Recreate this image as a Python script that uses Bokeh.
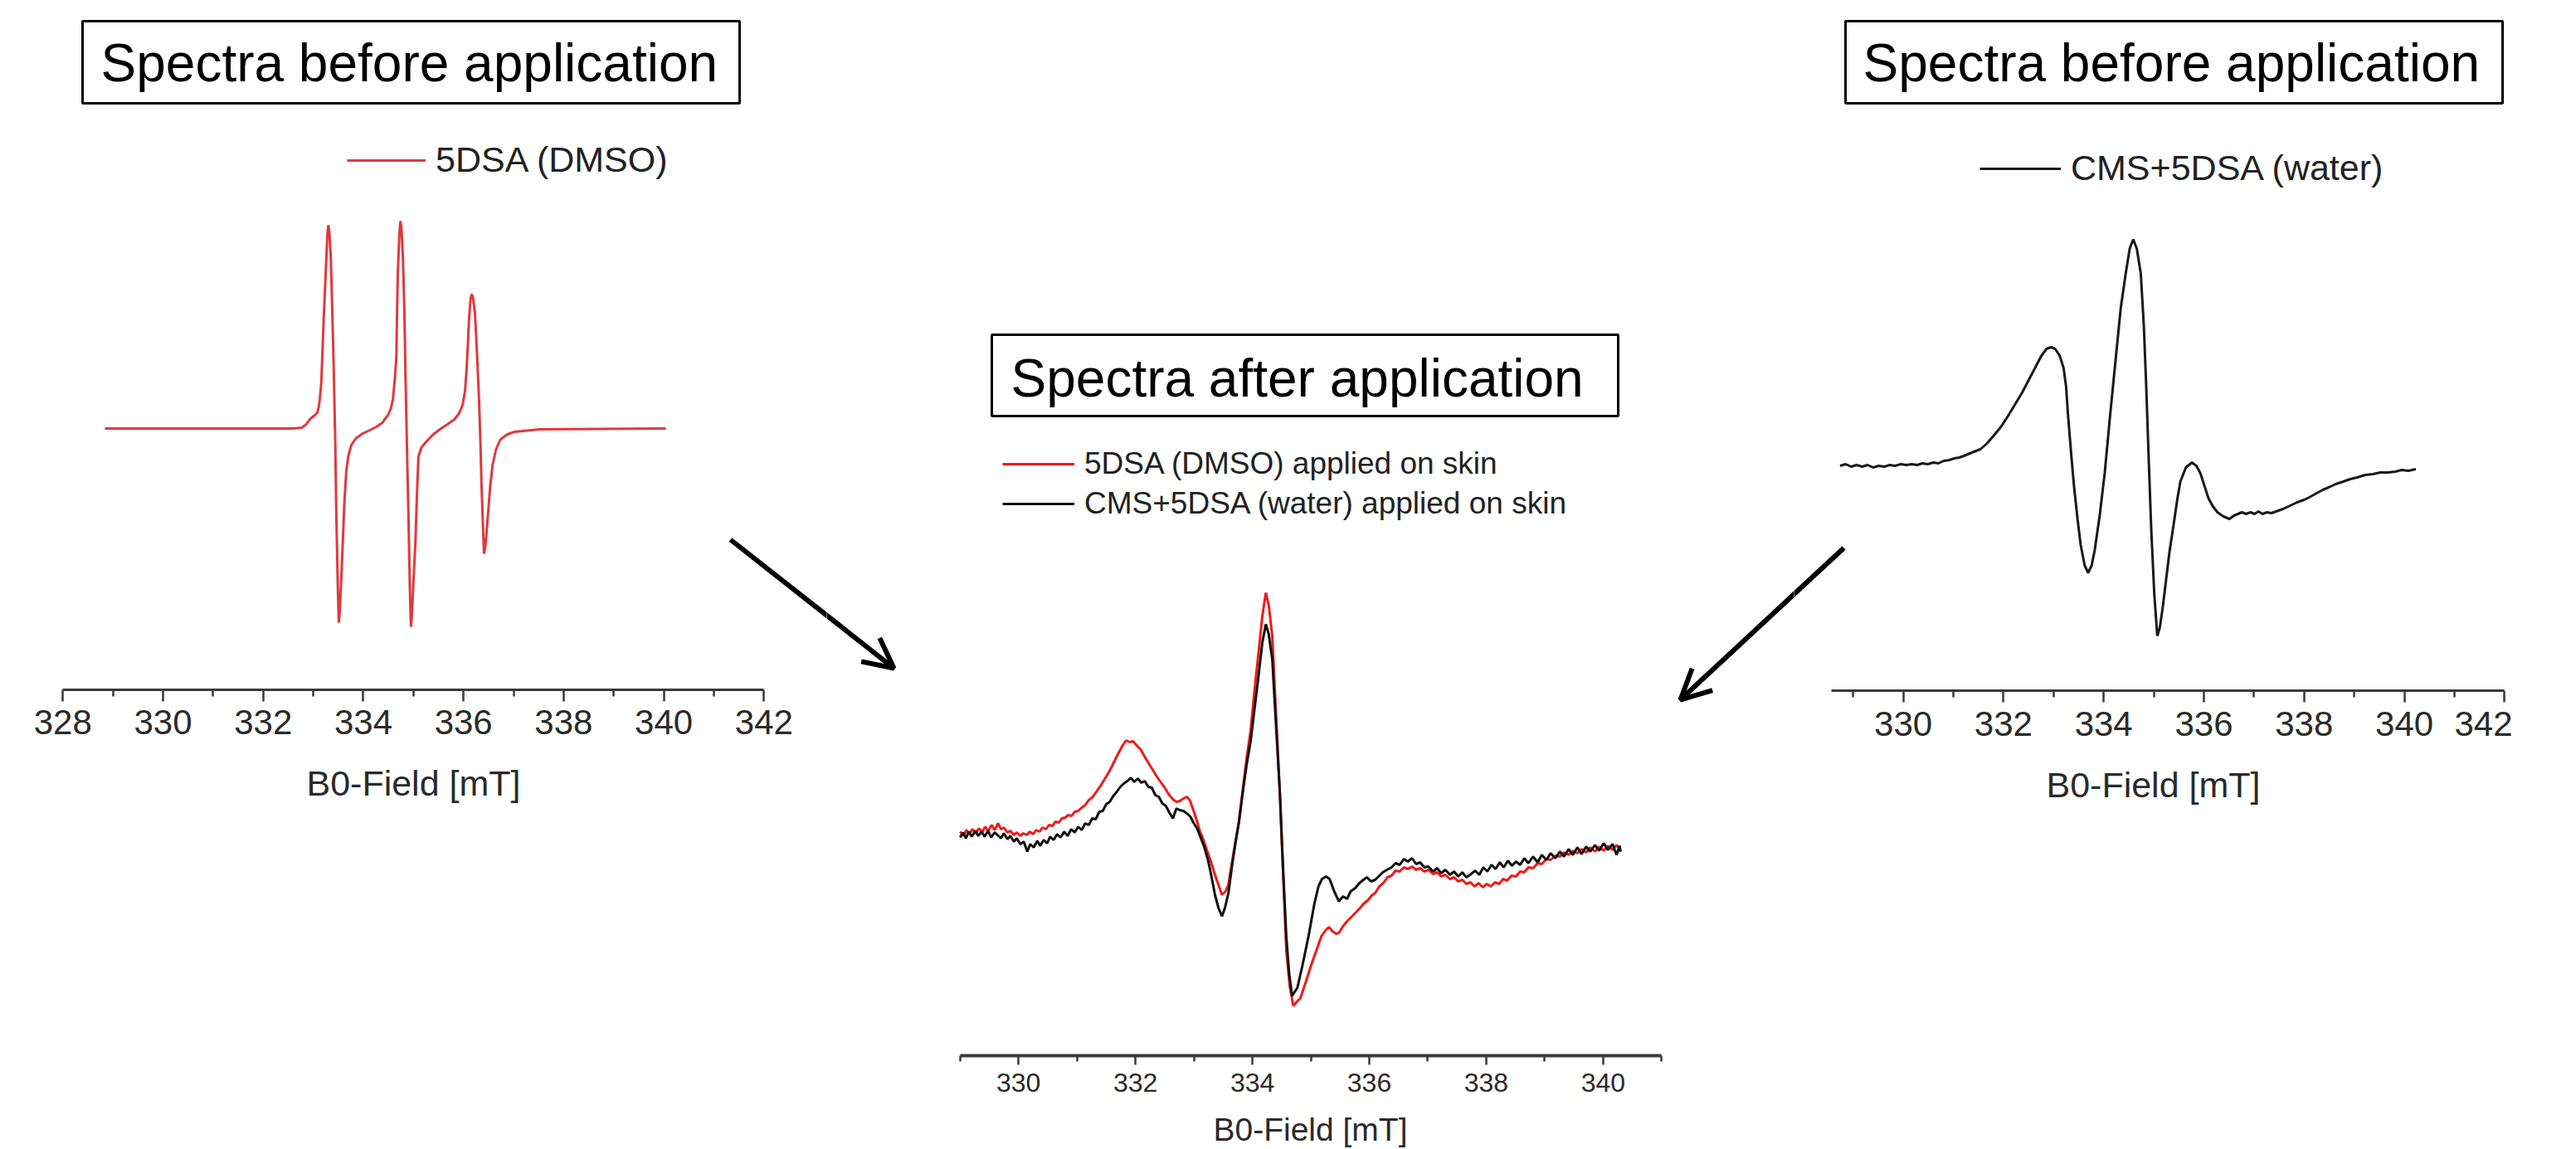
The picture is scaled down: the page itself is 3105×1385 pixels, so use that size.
from bokeh.plotting import figure
from bokeh.layouts import row
from bokeh.models import Range1d, FixedTicker, Legend, LegendItem, Arrow, OpenHead
from bokeh.core.properties import value
from bokeh.embed import file_html
from bokeh.resources import INLINE

# ---------------- data (B0-field in mT, signal in arbitrary units) ----------------
dmso_before = [(328.84, 0.00), (330.89, 0.00), (332.22, 0.00), (332.60, 0.00), (332.77, 0.01),
               (332.86, 0.05), (332.93, 0.11), (333.01, 0.15), (333.08, 0.19), (333.11, 0.26),
               (333.13, 0.35), (333.16, 0.55), (333.18, 0.87), (333.21, 1.35), (333.25, 1.90),
               (333.28, 2.32), (333.30, 2.45), (333.32, 2.38), (333.35, 2.07), (333.38, 1.40),
               (333.41, 0.69), (333.44, -0.20), (333.46, -1.03), (333.49, -1.90), (333.51, -2.34),
               (333.53, -2.20), (333.56, -1.80), (333.59, -1.37), (333.62, -0.90), (333.66, -0.51),
               (333.70, -0.33), (333.76, -0.20), (333.85, -0.12), (333.99, -0.06), (334.13, -0.02),
               (334.26, 0.02), (334.38, 0.07), (334.49, 0.16), (334.55, 0.24), (334.59, 0.35),
               (334.63, 0.60), (334.66, 0.87), (334.67, 1.30), (334.69, 1.90), (334.72, 2.35),
               (334.74, 2.50), (334.76, 2.42), (334.79, 2.07), (334.82, 1.40), (334.84, 0.69),
               (334.87, -0.20), (334.90, -1.03), (334.93, -1.95), (334.95, -2.39), (334.97, -2.25),
               (335.00, -1.85), (335.04, -1.37), (335.07, -0.80), (335.10, -0.34), (335.16, -0.23),
               (335.24, -0.17), (335.38, -0.08), (335.53, -0.01), (335.68, 0.05), (335.82, 0.11),
               (335.92, 0.19), (335.98, 0.28), (336.03, 0.45), (336.06, 0.69), (336.09, 1.05),
               (336.11, 1.31), (336.14, 1.55), (336.16, 1.62), (336.19, 1.58), (336.23, 1.38),
               (336.27, 0.90), (336.31, 0.35), (336.34, -0.20), (336.36, -0.68), (336.39, -1.20),
               (336.41, -1.51), (336.44, -1.40), (336.49, -1.03), (336.53, -0.72), (336.58, -0.44),
               (336.65, -0.25), (336.74, -0.13), (336.88, -0.07), (337.02, -0.04), (337.52, -0.01),
               (340.04, 0.00)]
dmso_before_field = [p[0] for p in dmso_before]
dmso_before_signal = [p[1] for p in dmso_before]

cms_before = [(328.74, 0.00), (328.85, 0.02), (328.96, -0.01), (329.07, 0.01), (329.18, -0.01),
              (329.29, 0.01), (329.40, -0.02), (329.51, 0.00), (329.62, -0.01), (329.73, 0.01),
              (329.84, 0.00), (329.95, 0.02), (330.06, 0.01), (330.17, 0.02), (330.28, 0.01),
              (330.38, 0.03), (330.49, 0.02), (330.60, 0.04), (330.70, 0.03), (330.81, 0.06),
              (330.92, 0.07), (331.02, 0.09), (331.12, 0.10), (331.21, 0.12), (331.37, 0.16),
              (331.54, 0.20), (331.67, 0.27), (331.80, 0.36), (331.95, 0.47), (332.09, 0.60),
              (332.23, 0.74), (332.37, 0.88), (332.50, 1.03), (332.63, 1.18), (332.75, 1.32),
              (332.86, 1.41), (332.95, 1.43), (333.03, 1.41), (333.12, 1.33), (333.20, 1.18),
              (333.25, 0.95), (333.29, 0.60), (333.35, 0.15), (333.41, -0.26), (333.48, -0.65),
              (333.54, -0.95), (333.62, -1.20), (333.69, -1.29), (333.76, -1.20), (333.82, -1.02),
              (333.92, -0.60), (334.02, -0.09), (334.13, 0.62), (334.24, 1.29), (334.34, 1.90),
              (334.44, 2.32), (334.52, 2.62), (334.59, 2.73), (334.66, 2.62), (334.74, 2.32),
              (334.80, 1.70), (334.85, 0.94), (334.90, 0.05), (334.95, -0.78), (335.01, -1.55),
              (335.07, -2.05), (335.12, -1.95), (335.18, -1.70), (335.23, -1.45), (335.31, -1.05),
              (335.40, -0.69), (335.47, -0.40), (335.53, -0.19), (335.64, -0.02), (335.76, 0.04),
              (335.85, 0.00), (335.93, -0.09), (336.01, -0.24), (336.09, -0.39), (336.18, -0.49),
              (336.27, -0.56), (336.39, -0.61), (336.51, -0.64), (336.60, -0.60), (336.68, -0.58),
              (336.76, -0.56), (336.84, -0.58), (336.93, -0.56), (337.01, -0.58), (337.09, -0.55),
              (337.17, -0.58), (337.26, -0.56), (337.35, -0.57), (337.44, -0.55), (337.58, -0.52),
              (337.72, -0.48), (337.86, -0.44), (338.00, -0.41), (338.10, -0.38), (338.25, -0.33),
              (338.37, -0.29), (338.49, -0.26), (338.63, -0.22), (338.78, -0.19), (338.92, -0.16),
              (339.06, -0.14), (339.22, -0.11), (339.37, -0.10), (339.52, -0.08), (339.67, -0.08),
              (339.82, -0.07), (339.95, -0.05), (340.08, -0.06), (340.23, -0.04)]
cms_before_field = [p[0] for p in cms_before]
cms_before_signal = [p[1] for p in cms_before]

dmso_skin = [(329.00, 0.02), (329.06, -0.03), (329.11, 0.04), (329.16, -0.01), (329.21, 0.05),
             (329.27, 0.00), (329.32, 0.06), (329.38, 0.02), (329.43, 0.08), (329.48, 0.03),
             (329.54, 0.10), (329.59, 0.04), (329.65, 0.12), (329.70, 0.05), (329.75, 0.07),
             (329.81, 0.01), (329.86, 0.03), (329.92, -0.02), (329.97, 0.01), (330.03, -0.03),
             (330.08, 0.00), (330.14, -0.02), (330.19, 0.02), (330.25, -0.01), (330.30, 0.04),
             (330.36, 0.02), (330.41, 0.07), (330.47, 0.05), (330.52, 0.10), (330.58, 0.09),
             (330.63, 0.14), (330.69, 0.13), (330.74, 0.18), (330.80, 0.19), (330.85, 0.22),
             (330.91, 0.21), (330.96, 0.26), (331.02, 0.27), (331.08, 0.31), (331.14, 0.34),
             (331.20, 0.40), (331.27, 0.44), (331.33, 0.50), (331.40, 0.57), (331.47, 0.65),
             (331.54, 0.73), (331.60, 0.81), (331.66, 0.90), (331.72, 0.98), (331.78, 1.06),
             (331.84, 1.12), (331.90, 1.10), (331.96, 1.11), (332.02, 1.06), (332.09, 1.01),
             (332.16, 0.92), (332.23, 0.84), (332.30, 0.76), (332.37, 0.68), (332.44, 0.61),
             (332.50, 0.55), (332.57, 0.47), (332.64, 0.41), (332.70, 0.38), (332.76, 0.39),
             (332.82, 0.42), (332.88, 0.44), (332.93, 0.40), (332.99, 0.28), (333.05, 0.15),
             (333.10, 0.03), (333.16, -0.07), (333.22, -0.20), (333.29, -0.34), (333.35, -0.48),
             (333.42, -0.62), (333.48, -0.74), (333.54, -0.70), (333.59, -0.62), (333.65, -0.35),
             (333.71, -0.10), (333.77, 0.14), (333.84, 0.55), (333.90, 0.90), (333.97, 1.24),
             (334.04, 1.75), (334.11, 2.21), (334.17, 2.62), (334.23, 2.90), (334.28, 2.75),
             (334.34, 2.38), (334.40, 1.50), (334.47, 0.49), (334.52, -0.40), (334.58, -1.41),
             (334.64, -1.85), (334.70, -2.08), (334.76, -2.03), (334.82, -1.99), (334.90, -1.82),
             (335.01, -1.58), (335.10, -1.40), (335.18, -1.24), (335.25, -1.17), (335.31, -1.13),
             (335.37, -1.18), (335.43, -1.21), (335.48, -1.20), (335.55, -1.12), (335.62, -1.06),
             (335.69, -1.01), (335.76, -0.96), (335.83, -0.91), (335.90, -0.85), (335.97, -0.81),
             (336.04, -0.75), (336.10, -0.72), (336.17, -0.64), (336.24, -0.60), (336.31, -0.53),
             (336.38, -0.51), (336.45, -0.45), (336.52, -0.46), (336.59, -0.41), (336.66, -0.43),
             (336.73, -0.40), (336.80, -0.44), (336.87, -0.42), (336.94, -0.46), (337.01, -0.44),
             (337.09, -0.49), (337.16, -0.47), (337.23, -0.52), (337.30, -0.50), (337.38, -0.55),
             (337.45, -0.53), (337.52, -0.58), (337.59, -0.56), (337.66, -0.61), (337.73, -0.59),
             (337.80, -0.64), (337.87, -0.60), (337.94, -0.65), (338.01, -0.61), (338.08, -0.64),
             (338.15, -0.59), (338.22, -0.61), (338.29, -0.55), (338.36, -0.57), (338.43, -0.51),
             (338.51, -0.52), (338.58, -0.46), (338.65, -0.47), (338.72, -0.41), (338.80, -0.42),
             (338.88, -0.36), (338.95, -0.37), (339.03, -0.31), (339.10, -0.32), (339.18, -0.27),
             (339.26, -0.28), (339.33, -0.23), (339.41, -0.26), (339.48, -0.21), (339.56, -0.24),
             (339.63, -0.19), (339.71, -0.23), (339.78, -0.17), (339.86, -0.22), (339.93, -0.16),
             (340.01, -0.21), (340.08, -0.15), (340.16, -0.20), (340.23, -0.14), (340.30, -0.22)]
dmso_skin_field = [p[0] for p in dmso_skin]
dmso_skin_signal = [p[1] for p in dmso_skin]

cms_skin = [(329.00, -0.05), (329.05, 0.01), (329.10, -0.06), (329.15, 0.02), (329.20, -0.04),
            (329.26, 0.03), (329.31, -0.03), (329.37, 0.02), (329.42, -0.04), (329.48, 0.03),
            (329.53, -0.05), (329.59, 0.01), (329.64, -0.02), (329.70, -0.06), (329.75, 0.00),
            (329.81, -0.07), (329.86, -0.03), (329.92, -0.10), (329.97, -0.06), (330.03, -0.13),
            (330.09, -0.10), (330.15, -0.22), (330.20, -0.13), (330.26, -0.17), (330.32, -0.09),
            (330.37, -0.15), (330.43, -0.08), (330.49, -0.12), (330.54, -0.04), (330.60, -0.08),
            (330.66, -0.01), (330.72, -0.05), (330.78, 0.02), (330.84, -0.03), (330.90, 0.05),
            (330.96, 0.01), (331.02, 0.08), (331.08, 0.04), (331.14, 0.12), (331.20, 0.10),
            (331.26, 0.18), (331.32, 0.17), (331.38, 0.26), (331.44, 0.27), (331.50, 0.35),
            (331.56, 0.38), (331.62, 0.45), (331.68, 0.50), (331.74, 0.56), (331.80, 0.60),
            (331.86, 0.63), (331.92, 0.67), (331.98, 0.62), (332.04, 0.66), (332.10, 0.61),
            (332.16, 0.63), (332.22, 0.56), (332.28, 0.55), (332.34, 0.46), (332.40, 0.44),
            (332.46, 0.36), (332.52, 0.33), (332.58, 0.25), (332.64, 0.18), (332.70, 0.30),
            (332.76, 0.28), (332.82, 0.27), (332.88, 0.24), (332.94, 0.20), (333.00, 0.12),
            (333.06, 0.05), (333.12, -0.06), (333.18, -0.17), (333.24, -0.32), (333.30, -0.52),
            (333.36, -0.74), (333.42, -0.90), (333.48, -1.00), (333.53, -0.90), (333.59, -0.72),
            (333.65, -0.40), (333.71, -0.12), (333.77, 0.14), (333.84, 0.52), (333.90, 0.82),
            (333.97, 1.11), (334.04, 1.52), (334.11, 1.93), (334.17, 2.30), (334.23, 2.52),
            (334.28, 2.40), (334.34, 2.10), (334.40, 1.35), (334.47, 0.49), (334.52, -0.35),
            (334.58, -1.24), (334.63, -1.70), (334.68, -1.96), (334.77, -1.86), (334.86, -1.58),
            (334.96, -1.24), (335.06, -0.85), (335.13, -0.64), (335.19, -0.55), (335.26, -0.52),
            (335.32, -0.55), (335.40, -0.70), (335.48, -0.82), (335.55, -0.76), (335.62, -0.79),
            (335.68, -0.70), (335.76, -0.66), (335.83, -0.60), (335.90, -0.56), (335.96, -0.53),
            (336.03, -0.58), (336.10, -0.56), (336.16, -0.52), (336.23, -0.47), (336.30, -0.44),
            (336.38, -0.41), (336.45, -0.36), (336.52, -0.38), (336.59, -0.31), (336.66, -0.34),
            (336.73, -0.30), (336.80, -0.37), (336.87, -0.35), (336.94, -0.41), (337.01, -0.40),
            (337.09, -0.46), (337.16, -0.42), (337.23, -0.48), (337.30, -0.44), (337.38, -0.50),
            (337.45, -0.46), (337.52, -0.52), (337.59, -0.47), (337.66, -0.53), (337.74, -0.49),
            (337.81, -0.45), (337.88, -0.50), (337.95, -0.41), (338.02, -0.46), (338.09, -0.38),
            (338.16, -0.43), (338.23, -0.35), (338.30, -0.41), (338.37, -0.33), (338.44, -0.39),
            (338.51, -0.34), (338.58, -0.38), (338.65, -0.30), (338.72, -0.36), (338.80, -0.28),
            (338.88, -0.35), (338.95, -0.26), (339.03, -0.32), (339.10, -0.24), (339.18, -0.30),
            (339.26, -0.22), (339.33, -0.28), (339.41, -0.19), (339.48, -0.26), (339.56, -0.17),
            (339.63, -0.25), (339.71, -0.16), (339.78, -0.22), (339.86, -0.14), (339.93, -0.21),
            (340.01, -0.12), (340.08, -0.20), (340.16, -0.13), (340.23, -0.26), (340.28, -0.15),
            (340.30, -0.22)]
cms_skin_field = [p[0] for p in cms_skin]
cms_skin_signal = [p[1] for p in cms_skin]

left_major_ticks = [328, 330, 332, 334, 336, 338, 340, 342]
right_major_ticks = [330, 332, 334, 336, 338, 340, 342]
wide_minor_ticks = [329, 331, 333, 335, 337, 339, 341]
center_major_ticks = [330, 332, 334, 336, 338, 340]
center_minor_ticks = [329, 331, 333, 335, 337, 339, 341]

label_dmso = "5DSA (DMSO)"
label_cms = "CMS+5DSA (water)"
label_dmso_skin = "5DSA (DMSO) applied on skin"
label_cms_skin = "CMS+5DSA (water) applied on skin"
title_before = "Spectra before application"
title_after = "Spectra after application"
axis_title = "B0-Field [mT]"

# ---------------- layout helpers ----------------
FONT = "Liberation Sans"
PAGE_TOP = 0
PAGE_BOTTOM = 1385


def make_panel(ref_left, ref_right, ref_axis_y, anchor_val, anchor_px, px_per_mT, zero_px,
               px_per_unit=100.0):
    w = ref_right - ref_left
    h = PAGE_BOTTOM - PAGE_TOP
    x0 = anchor_val - (anchor_px - ref_left) / px_per_mT
    x1 = x0 + w / px_per_mT
    y_top = (zero_px - PAGE_TOP) / px_per_unit
    y_bot = (zero_px - ref_axis_y) / px_per_unit
    p = figure(width=w, height=h, x_range=Range1d(x0, x1), y_range=Range1d(y_bot, y_top),
               output_backend="svg", toolbar_location=None, y_axis_location=None,
               min_border_left=0, min_border_right=0, min_border_top=0,
               min_border_bottom=PAGE_BOTTOM - ref_axis_y)
    try:
        p.frame_align = False
    except Exception:
        pass
    p.extra_x_ranges = {"px": Range1d(ref_left, ref_right)}
    p.extra_y_ranges = {"px": Range1d(ref_axis_y, PAGE_TOP)}
    p.grid.visible = False
    p.outline_line_color = None
    p.background_fill_color = "white"
    p.border_fill_color = "white"
    return p


def style_axis(p, major, minor, bounds, tick_px, label_px, tick_out, minor_out, line_w,
               tick_standoff, label_standoff):
    ax = p.xaxis[0]
    ax.ticker = FixedTicker(ticks=major, minor_ticks=minor)
    ax.bounds = bounds
    ax.axis_label = axis_title
    ax.axis_line_color = "#3a3a3a"
    ax.axis_line_width = line_w
    ax.major_tick_line_color = "#3a3a3a"
    ax.minor_tick_line_color = "#3a3a3a"
    ax.major_tick_line_width = 2.5
    ax.minor_tick_line_width = 2.5
    ax.major_tick_in = 0
    ax.minor_tick_in = 0
    ax.major_tick_out = tick_out
    ax.minor_tick_out = minor_out
    ax.major_label_text_font = FONT
    ax.major_label_text_font_size = tick_px
    ax.major_label_text_color = "#2a2a2a"
    ax.major_label_standoff = tick_standoff
    ax.axis_label_text_font = FONT
    ax.axis_label_text_font_size = label_px
    ax.axis_label_text_font_style = "normal"
    ax.axis_label_text_color = "#2a2a2a"
    ax.axis_label_standoff = label_standoff


def title_box(p, left, right, top, bottom, text, tx, ty):
    p.quad(left=[left], right=[right], top=[top], bottom=[bottom],
           x_range_name="px", y_range_name="px",
           fill_color="white", line_color="black", line_width=3)
    p.text(x=[tx], y=[ty], text=[text], x_range_name="px", y_range_name="px",
           text_font=value(FONT), text_font_size="64px", text_color="black",
           text_align="left", text_baseline="middle")


def add_legend(p, items, loc, font_px, glyph_w, spacing):
    leg = Legend(items=items, location=loc, orientation="vertical",
                 label_text_font=FONT, label_text_font_size=font_px,
                 label_text_color="#222222", glyph_width=glyph_w, glyph_height=36,
                 label_height=36, label_standoff=12, padding=0, margin=0,
                 spacing=spacing, border_line_color=None, background_fill_alpha=0)
    p.add_layout(leg)


def arrow(p, xs, ys, xe, ye):
    p.add_layout(Arrow(end=OpenHead(size=36, line_width=6, line_color="black"),
                       x_start=xs, y_start=ys, x_end=xe, y_end=ye,
                       x_range_name="px", y_range_name="px",
                       line_width=6, line_color="black"))


# arrow geometry (page pixels) - each drawn in both neighbouring panels, clipped at the seam
LEFT_ARROW = (880, 650, 1077, 805)
RIGHT_ARROW = (2222, 660, 2025, 843)

# ---------------- left panel: 5DSA (DMSO) before ----------------
p1 = make_panel(0, 996, 831, 328, 75.3, 60.36, 516)
r1 = p1.line(dmso_before_field, dmso_before_signal, line_color="#e0393e", line_width=3)
style_axis(p1, left_major_ticks, wide_minor_ticks, (328, 342), "42px", "43px", 14, 8, 3, 10, 32)
title_box(p1, 99, 891, 25, 124, title_before, 121, 75)
add_legend(p1, [LegendItem(label=label_dmso, renderers=[r1])], (418, 614), "43px", 95, 0)
arrow(p1, *LEFT_ARROW)

# ---------------- center panel: after application on skin ----------------
p2 = make_panel(996, 2162, 1272, 330, 1227.2, 70.47, 1004)
r2a = p2.line(dmso_skin_field, dmso_skin_signal, line_color="#f01a1a", line_width=3)
r2b = p2.line(cms_skin_field, cms_skin_signal, line_color="#111111", line_width=3)
style_axis(p2, center_major_ticks, center_minor_ticks, (329, 341), "32px", "39px", 11, 7, 4, 10, 21)
title_box(p2, 1195, 1950, 403, 501, title_after, 1218, 455)
add_legend(p2, [LegendItem(label=label_dmso_skin, renderers=[r2a]),
                LegendItem(label=label_cms_skin, renderers=[r2b])], (1208 - 996, 1272 - 628),
           "37px", 87, 6)
arrow(p2, *LEFT_ARROW)
arrow(p2, *RIGHT_ARROW)

# ---------------- right panel: CMS+5DSA (water) before ----------------
p3 = make_panel(2162, 3028, 832, 330, 2293.6, 60.4, 561)
r3 = p3.line(cms_before_field, cms_before_signal, line_color="#1a1a1a", line_width=3)
style_axis(p3, right_major_ticks, wide_minor_ticks, (328.56, 342), "42px", "43px", 14, 8, 3, 11, 32)
title_box(p3, 2224, 3016, 25, 124, title_before, 2245, 75)
add_legend(p3, [LegendItem(label=label_cms, renderers=[r3])], (2386 - 2162, 832 - 227), "43px", 98, 0)
arrow(p3, *RIGHT_ARROW)

layout = row(p1, p2, p3, spacing=0)
open("out.html", "w").write(file_html(layout, INLINE))
